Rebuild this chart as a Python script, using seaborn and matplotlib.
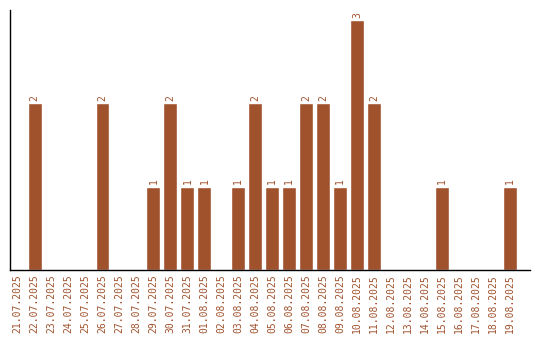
import matplotlib
matplotlib.use("Agg")
import matplotlib.pyplot as plt
import seaborn as sns
import pandas as pd

dates = ["21.07.2025", "22.07.2025", "23.07.2025", "24.07.2025", "25.07.2025",
         "26.07.2025", "27.07.2025", "28.07.2025", "29.07.2025", "30.07.2025",
         "31.07.2025", "01.08.2025", "02.08.2025", "03.08.2025", "04.08.2025",
         "05.08.2025", "06.08.2025", "07.08.2025", "08.08.2025", "09.08.2025",
         "10.08.2025", "11.08.2025", "12.08.2025", "13.08.2025", "14.08.2025",
         "15.08.2025", "16.08.2025", "17.08.2025", "18.08.2025", "19.08.2025"]
counts = [0, 2, 0, 0, 0, 2, 0, 0, 1, 2,
          1, 1, 0, 1, 2, 1, 1, 2, 2, 1,
          3, 2, 0, 0, 0, 1, 0, 0, 0, 1]

color = "#A0522D"
df = pd.DataFrame({"date": dates, "count": counts})

sns.set_style("white")
plt.rcParams["font.family"] = ["DejaVu Sans Mono"]

fig = plt.figure(figsize=(5.4, 3.4), dpi=100)
ax = fig.add_axes([10/540, 1 - 270/340, 520/540, 260/340])
sns.barplot(data=df, x="date", y="count", color=color, saturation=1,
            width=0.82, ax=ax)

for p, v in zip(ax.patches, counts):
    if v > 0:
        ax.text(p.get_x() + p.get_width()/2, v + 0.03, str(v), rotation=90,
                ha="center", va="bottom", fontsize=7, color=color)

ax.set_xlim(-0.45, 29 + 1.18)
ax.set_ylim(0, 3.12)
ax.set_xlabel("")
ax.set_ylabel("")
ax.set_yticks([])
ax.tick_params(axis="x", length=0, pad=3)
for lbl in ax.get_xticklabels():
    lbl.set_rotation(90)
    lbl.set_fontsize(7)
    lbl.set_color(color)
for s in ["top", "right"]:
    ax.spines[s].set_visible(False)
for s in ["left", "bottom"]:
    ax.spines[s].set_color("black")
    ax.spines[s].set_linewidth(1)

fig.savefig("out.png", dpi=100)
